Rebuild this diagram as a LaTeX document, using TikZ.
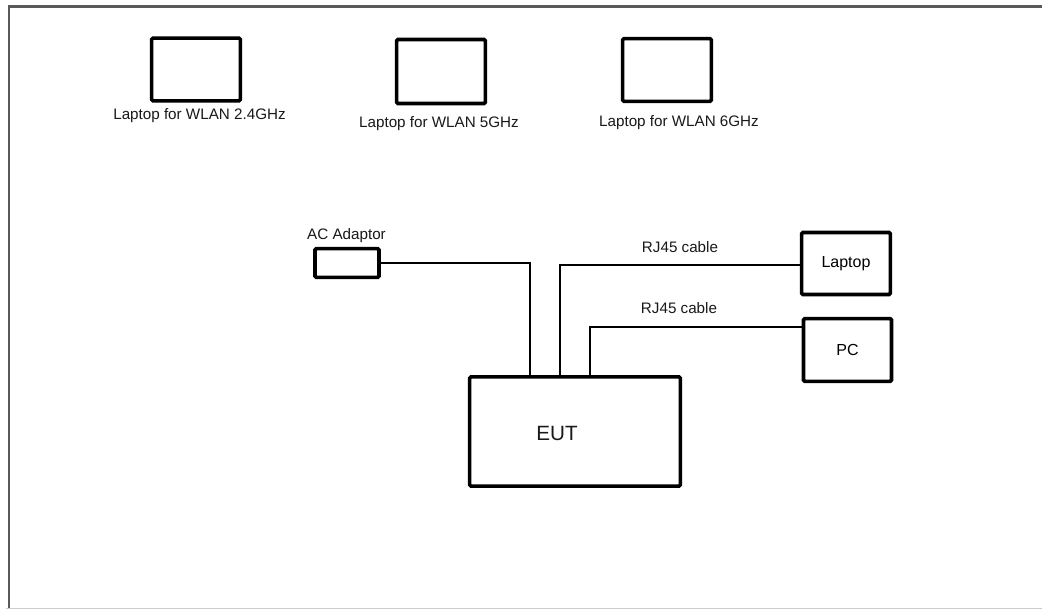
\documentclass[tikz,border=0pt]{standalone}
\usepackage{fontspec}
\setmainfont{Liberation Sans}
\begin{document}
\begin{tikzpicture}[x=0.75pt,y=-0.75pt,
  devbox/.style={draw=black, line width=2.7pt, rounded corners=1pt, inner sep=0pt, fill=white},
  cable/.style={draw=black, line width=1.5pt},
  lbl/.style={font=\fontsize{11.4pt}{13pt}\selectfont, inner sep=0pt, text=black!90},
  frameline/.style={line width=2.2pt, draw=black!65}]
\useasboundingbox (0,0) rectangle (1042,610);
\fill[white] (0,0) rectangle (1042,610);
% outer frame
\draw[frameline] (9,608) -- (9,6.5) -- (1042,6.5);
\draw[line width=1pt, draw=black!20] (6,608.5) -- (1042,608.5);
% wireless laptops
\node[devbox, minimum width=66.5pt, minimum height=47pt] (l24) at (196,69.5) {};
\node[lbl] (t24) at (199.5,116) {Laptop for WLAN 2.4GHz};
\node[devbox, minimum width=66.5pt, minimum height=48pt] (l5) at (441,71.5) {};
\node[lbl] (t5) at (439,124) {Laptop for WLAN 5GHz};
\node[devbox, minimum width=66.5pt, minimum height=47pt] (l6) at (667,70) {};
\node[lbl] (t6) at (679,122.5) {Laptop for WLAN 6GHz};
% AC adaptor
\node[devbox, minimum width=48pt, minimum height=21.5pt] (ac) at (347,263) {};
\node[lbl] (tac) at (346.5,236) {AC Adaptor};
% wired devices
\node[devbox, minimum width=66.5pt, minimum height=46.5pt, font=\fontsize{12pt}{14pt}\selectfont] (lap) at (846,263.5) {Laptop};
\node[devbox, minimum width=66pt, minimum height=47pt, font=\fontsize{12pt}{14pt}\selectfont] (pc) at (847.5,350) {PC};
% EUT
\node[devbox, minimum width=158pt, minimum height=82pt] (eut) at (575,431.5) {};
\node[lbl, font=\fontsize{15.5pt}{18pt}\selectfont] (teut) at (557,433) {EUT};
% connection points on EUT top
\coordinate (p1) at (530,376.5);
\coordinate (p2) at (560,376.5);
\coordinate (p3) at (590,376.5);
\coordinate (y3) at (0,327);
\coordinate (y2) at (0,264.5);
% cables
\draw[cable] (ac.east) -| (p1);
\draw[cable] (p2) |- (lap.west |- y2);
\draw[cable] (p3) |- (pc.west |- y3);
\node[lbl] (rj1) at (680,247) {RJ45 cable};
\node[lbl] (rj2) at (679,308) {RJ45 cable};
\end{tikzpicture}
\end{document}
